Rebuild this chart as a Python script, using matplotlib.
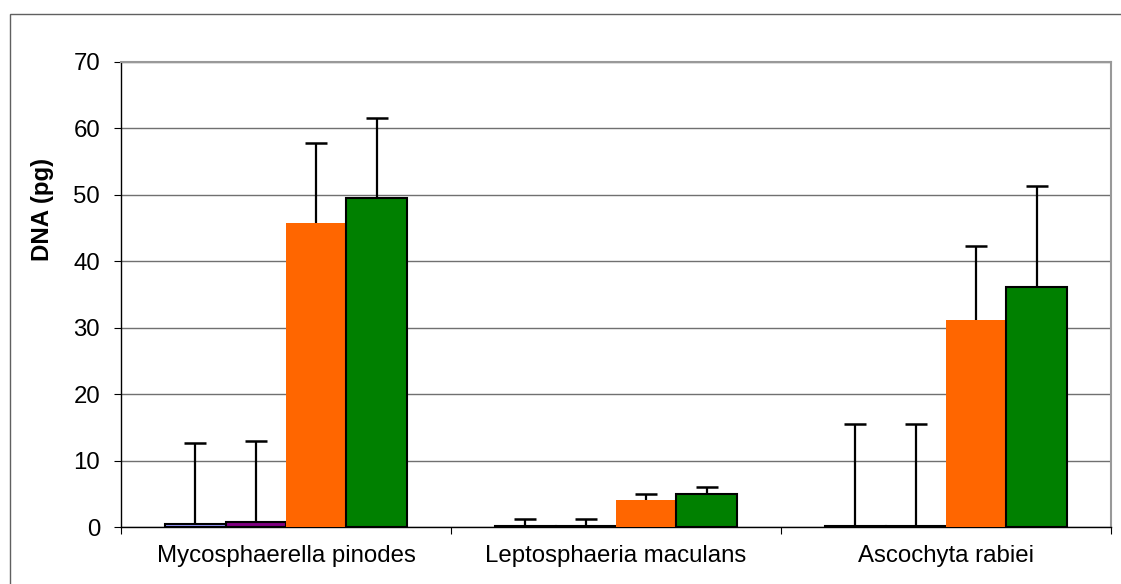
import matplotlib
matplotlib.use("Agg")
import matplotlib.pyplot as plt
import numpy as np
from matplotlib.patches import Rectangle

categories = ["Mycosphaerella pinodes", "Leptosphaeria maculans", "Ascochyta rabiei"]
s1 = [0.5, 0.1, 0.2]
s1_err = [12.1, 1.05, 15.3]
s2 = [0.8, 0.15, 0.1]
s2_err = [12.1, 1.0, 15.4]
s3 = [45.7, 4.0, 31.2]
s3_err = [12.1, 1.0, 11.1]
s4 = [49.5, 5.0, 36.2]
s4_err = [12.1, 1.0, 15.2]
yticks = [0, 10, 20, 30, 40, 50, 60, 70]

plt.rcParams['font.family'] = ['Liberation Sans', 'DejaVu Sans']
FS = 17.3

fig = plt.figure(figsize=(11.21, 5.84), dpi=100)
ax = fig.add_axes([121/1121, 1-527/584, 990/1121, 465/584])

x = np.arange(len(categories))
w = 0.183
series = [
    (s1, s1_err, "#9999FF", "black", 1.5),
    (s2, s2_err, "#800080", "black", 1.5),
    (s3, s3_err, "#FF6600", "#FF6600", 0.0),
    (s4, s4_err, "#008000", "black", 1.5),
]
for i, (vals, errs, fc, ec, lw) in enumerate(series):
    pos = x + (i - 1.5) * w
    ax.bar(pos, vals, width=w, color=fc, edgecolor=ec, linewidth=lw, zorder=3)
    eb = ax.errorbar(pos, vals, yerr=[np.zeros(len(vals)), errs], fmt='none',
                     ecolor='black', elinewidth=1.6, capsize=8, capthick=1.8, zorder=4)
    caps = eb[1]
    if len(caps) == 2:
        caps[0].set_visible(False)

ax.set_xlim(-0.5, 2.5)
ax.set_ylim(0, 70)
ax.set_yticks(yticks)
ax.set_yticklabels([str(v) for v in yticks], fontsize=FS)
ax.set_xticks([-0.5, 0.5, 1.5, 2.5])
ax.set_xticklabels([])
ax.set_xticks(x, minor=True)
ax.set_xticklabels(categories, minor=True, fontsize=FS)
ax.tick_params(axis='x', which='minor', length=0, pad=13)
ax.tick_params(axis='x', which='major', length=5, width=0.8, direction='out')
ax.tick_params(axis='y', length=5, width=0.8, direction='out', pad=10)

ax.yaxis.grid(True, color='#707070', linewidth=1.0, zorder=0)
ax.set_axisbelow(True)
for s in ['top', 'right']:
    ax.spines[s].set_color('#999999')
    ax.spines[s].set_linewidth(1.5)
ax.spines['left'].set_color('black')
ax.spines['bottom'].set_color('black')
ax.spines['left'].set_linewidth(1.0)
ax.spines['bottom'].set_linewidth(1.0)

ax.set_ylabel("DNA (pg)", fontsize=FS, fontweight='bold')
ax.yaxis.set_label_coords(-67/990, 0.682)

frame = Rectangle((10/1121, -0.1), 1.2, (584-14)/584 + 0.1, transform=fig.transFigure,
                  fill=False, edgecolor='#606060', linewidth=1.0)
fig.patches.append(frame)

fig.savefig("out.png", dpi=100)
